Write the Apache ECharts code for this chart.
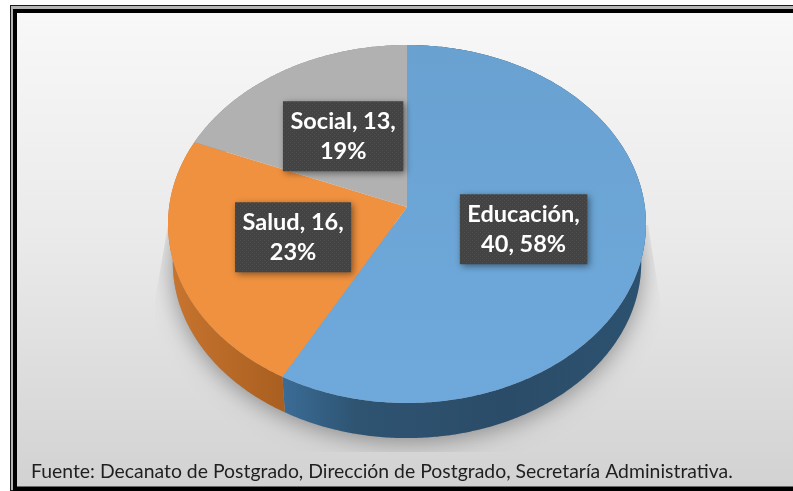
<!DOCTYPE html>
<html><head><meta charset="utf-8">
<style>html,body{margin:0;padding:0;background:#fff}#c{width:793px;height:491px}</style>
<script src="https://cdn.jsdelivr.net/npm/echarts@6/dist/echarts.min.js"></script>
</head><body><div id="c"></div>
<script>
const categories = ['Educación', 'Salud', 'Social'];
const values = [40, 16, 13];
const percents = ['58%', '23%', '19%'];
const labelLines = [['Educación,', '40, 58%'], ['Salud, 16,', '23%'], ['Social, 13,', '19%']];
const topColors = [
  {type:'linear',x:0,y:0,x2:0,y2:1,colorStops:[{offset:0,color:'#69a2d1'},{offset:1,color:'#6fa9dc'}]},
  '#f0913f', '#b1b1b1'];
const sideColors = [
  {type:'linear',x:0,y:0,x2:1,y2:0,colorStops:[{offset:0,color:'#3b6c96'},{offset:.2,color:'#2e5472'},{offset:.6,color:'#2b4c68'},{offset:1,color:'#2c5270'}]},
  {type:'linear',x:0,y:0,x2:1,y2:0,colorStops:[{offset:0,color:'#c8752f'},{offset:1,color:'#a95f20'}]},
  '#8a8a8a'];
const footer = 'Fuente: Decanato de Postgrado, Dirección de Postgrado, Secretaría Administrativa.';

// perspective disc layout
const CX = 407, APEX_Y = 207, K = 0.095, BX = 237.9, AY = 177.4;
const LOWER_SCALE = 0.98, LOWER_APEX_Y = 246;
const FONT = 'bold 23.5px Lato';
const total = values.reduce((a, b) => a + b, 0);

function proj(t, r) {
  const u = r * Math.sin(t), v = r * Math.cos(t), d = 1 + K * v;
  return [BX * u / d, -AY * v / d];
}
const upper = (t, r = 1) => { const p = proj(t, r); return [CX + p[0], APEX_Y + p[1]]; };
const lower = (t) => { const p = proj(t, 1); return [CX + LOWER_SCALE * p[0], LOWER_APEX_Y + LOWER_SCALE * p[1]]; };
function range(i) {
  const before = values.slice(0, i).reduce((a, b) => a + b, 0);
  return [before / total * 2 * Math.PI, (before + values[i]) / total * 2 * Math.PI];
}
function arc(f, a, b) {
  const n = Math.max(2, Math.ceil((b - a) / 0.01)), out = [];
  for (let i = 0; i <= n; i++) out.push(f(a + (b - a) * i / n));
  return out;
}
const seriesData = categories.map((c, i) => ({name: c, value: values[i]}));

const pat = document.createElement('canvas'); pat.width = pat.height = 4;
const pc = pat.getContext('2d');
pc.fillStyle = '#434343'; pc.fillRect(0, 0, 4, 4);
pc.fillStyle = '#505050'; pc.fillRect(0, 0, 1, 1); pc.fillRect(2, 2, 1, 1);
const mc = document.createElement('canvas').getContext('2d');

const chart = echarts.init(document.getElementById('c'), null, {renderer: 'canvas'});
chart.setOption({
  animation: false,
  graphic: {elements: [
    {type:'rect', z:-5, shape:{x:10,y:5,width:800,height:486}, style:{fill:'#1a1a1a'}},
    {type:'rect', z:-4, shape:{x:11,y:6,width:800,height:484}, style:{fill:'#b5b5b5'}},
    {type:'rect', z:-3, shape:{x:13,y:9,width:800,height:482}, style:{fill:'#000'}},
    {type:'rect', z:-2, shape:{x:17,y:13,width:800,height:473.5},
      style:{fill:{type:'linear',x:0,y:0,x2:0,y2:1,colorStops:[{offset:0,color:'#f8f8f8'},{offset:.5,color:'#e9e9e9'},{offset:1,color:'#d2d2d2'}]}}},
    {type:'text', z:10, x:31, y:472, style:{text:footer, font:'19.4px Lato', fill:'#1f1f1f', textVerticalAlign:'middle'}}
  ]},
  series: [
    {type:'custom', coordinateSystem:'none', silent:true, z:2, data:[seriesData[0]],
      renderItem() {
        return {type:'polygon', shape:{points:arc(lower, 0, 2*Math.PI)},
          clipPath:{type:'polygon', shape:{points:[[168,225],[155,300],[155,452],[660,452],[660,300],[648,225]]}},
          style:{fill:'#999', shadowBlur:24, shadowColor:'rgba(0,0,0,.38)', shadowOffsetY:3}};
      }},
    {type:'custom', coordinateSystem:'none', silent:true, z:3, data:seriesData,
      renderItem(params, api) {
        const i = params.dataIndex, [a, b] = range(i);
        return {type:'polygon', shape:{points:arc(t=>upper(t), a, b).concat(arc(lower, a, b).reverse())},
          style:{fill:sideColors[i]}};
      }},
    {type:'custom', coordinateSystem:'none', silent:true, z:4, data:seriesData,
      renderItem(params, api) {
        const i = params.dataIndex, [a, b] = range(i);
        return {type:'polygon', shape:{points:[[CX, APEX_Y]].concat(arc(t=>upper(t), a, b))},
          style:{fill:topColors[i]}};
      }},
    {type:'custom', coordinateSystem:'none', silent:true, z:5, data:seriesData,
      renderItem(params, api) {
        const i = params.dataIndex, [a, b] = range(i);
        const c = upper((a + b) / 2, 0.5);
        mc.font = FONT;
        const w = Math.max(...labelLines[i].map(s => mc.measureText(s).width)) + 15, h = 70;
        return {type:'group', children:[
          {type:'rect', shape:{x:c[0]-w/2, y:c[1]-h/2, width:w, height:h},
            style:{fill:{image:pat, repeat:'repeat'}, shadowBlur:7, shadowColor:'rgba(0,0,0,.45)', shadowOffsetX:2, shadowOffsetY:2}},
          {type:'text', x:c[0], y:c[1], style:{text:labelLines[i].join('\n'), font:FONT, lineHeight:30, fill:'#fff',
            align:'center', verticalAlign:'middle'}}
        ]};
      }}
  ]
});
</script></body></html>
